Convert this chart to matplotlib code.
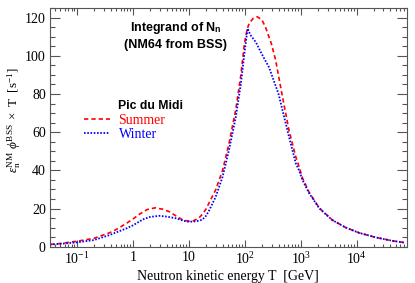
import matplotlib
matplotlib.use("Agg")
import matplotlib.pyplot as plt
from matplotlib.ticker import FixedLocator, FixedFormatter, LogLocator, NullFormatter, MultipleLocator

# ---- data ----
energy_summer = [0.033, 0.05, 0.075, 0.1, 0.2, 0.38, 0.5, 0.76, 1.0, 1.3, 1.8, 2.5, 3.5, 4.5, 6.0, 7.8,
                 10, 12, 15, 17.4, 20, 23, 30, 40, 52, 69, 85, 98, 110, 120, 140, 166, 200, 234, 300,
                 355, 470, 615, 815, 930, 1070, 1410, 2140, 3630, 6310, 11000, 21900, 43600, 74000]
summer = [1.2, 1.7, 2.4, 2.9, 4.4, 7.3, 9.0, 12.2, 14.5, 17.0, 19.5, 20.4, 19.6, 18.3, 16.0, 14.0,
          13.4, 13.6, 15.0, 17.0, 19.5, 23.0, 29.7, 40.0, 54.0, 72.0, 90.0, 106.0, 114.0, 117.0, 119.5,
          120.4, 119.0, 115.0, 106.0, 97.7, 78.5, 61.0, 47.0, 42.0, 36.0, 28.5, 20.3, 14.1, 10.1, 7.3,
          4.9, 3.1, 2.1]

energy_winter = [0.033, 0.05, 0.075, 0.1, 0.2, 0.38, 0.5, 0.76, 1.0, 1.5, 2.0, 2.95, 4.0, 5.9, 8.0,
                 10, 12, 15, 17.4, 20, 23, 30, 40, 52, 69, 85, 98, 105, 112, 125, 158, 200, 270, 400,
                 615, 815, 930, 1070, 1410, 2140, 3630, 6310, 11000, 21900, 43600, 74000]
winter = [1.2, 1.5, 2.0, 2.3, 3.5, 6.1, 7.5, 9.6, 11.2, 14.3, 15.6, 16.2, 15.8, 14.9, 13.6,
          13.1, 13.2, 13.6, 14.2, 16.0, 19.0, 26.0, 36.6, 50.6, 68.0, 85.5, 101.0, 108.0, 114.3, 111.0,
          107.0, 101.0, 94.0, 80.0, 57.6, 43.6, 40.0, 35.0, 28.0, 20.1, 14.0, 10.1, 7.3, 4.9, 3.1, 2.1]

series_labels = ["Summer", "Winter"]
xtick_values = [0.1, 1, 10, 100, 1000, 10000]
xtick_labels = [r"$10^{-1}$", "1", "10", r"$10^{2}$", r"$10^{3}$", r"$10^{4}$"]
ytick_values = [0, 20, 40, 60, 80, 100, 120]

# ---- style ----
plt.rcParams["mathtext.fontset"] = "custom"
plt.rcParams["mathtext.rm"] = "Liberation Serif"
plt.rcParams["mathtext.it"] = "Liberation Serif:italic"
plt.rcParams["mathtext.bf"] = "Liberation Serif:bold"
plt.rcParams["mathtext.sf"] = "Liberation Sans:bold"
plt.rcParams["mathtext.fallback"] = "stix"
serif = "Liberation Serif"
sans = "Liberation Sans"
axcol = "#555555"

fig = plt.figure(figsize=(4.15, 2.83), dpi=100)
ax = fig.add_axes([0.1205, 0.128, 0.8595, 0.8437])

l1, = ax.plot(energy_summer, summer, color="#ff0000", lw=1.2, linestyle=(0, (2.6, 1.8)),
              label=series_labels[0])
l2, = ax.plot(energy_winter, winter, color="#0000ff", lw=1.3, linestyle=(0, (0.9, 0.9)),
              label=series_labels[1])

ax.set_xscale("log")
ax.set_xlim(0.033, 78000)
ax.set_ylim(0, 125)

ax.xaxis.set_major_locator(FixedLocator(xtick_values))
ax.xaxis.set_major_formatter(FixedFormatter(xtick_labels))
ax.xaxis.set_minor_locator(LogLocator(base=10, subs=range(2, 10), numticks=20))
ax.xaxis.set_minor_formatter(NullFormatter())
ax.yaxis.set_major_locator(FixedLocator(ytick_values))
ax.yaxis.set_minor_locator(MultipleLocator(5))

for s in ax.spines.values():
    s.set_color(axcol)
    s.set_linewidth(0.8)

ax.tick_params(which="both", direction="in", top=True, right=True, color=axcol, width=0.8,
               labelsize=10, labelcolor="black")
ax.tick_params(axis="y", which="major", length=7.0, pad=3)
ax.tick_params(axis="y", which="minor", length=3.6)
ax.tick_params(axis="x", which="major", length=5.0, pad=3)
ax.tick_params(axis="x", which="minor", length=2.5)
for lab in ax.get_xticklabels() + ax.get_yticklabels():
    lab.set_fontfamily(serif)

ax.set_xlabel("Neutron kinetic energy T  [GeV]", fontfamily=serif, fontsize=10, labelpad=2)
ax.set_ylabel(r"$\epsilon_{\rm n}^{\rm NM}\ \phi^{\rm BSS}\ \times\ {\rm T}\ \ [{\rm s}^{-1}]$",
              fontsize=9.5)
ax.yaxis.set_label_coords(-0.076, 0.53)

ax.text(0.353, 0.915, r"Integrand of N$_\mathsf{n}$", transform=ax.transAxes, ha="center",
        va="center", fontfamily=sans, fontweight="bold", fontsize=9)
ax.text(0.353, 0.843, "(NM64 from BSS)", transform=ax.transAxes, ha="center", va="center",
        fontfamily=sans, fontweight="bold", fontsize=9)
ax.text(0.19, 0.589, "Pic du Midi", transform=ax.transAxes, ha="left", va="center",
        fontfamily=sans, fontweight="bold", fontsize=8.8)

ax.legend(handles=[l1, l2], loc="upper left", bbox_to_anchor=(0.095, 0.558), frameon=False,
          prop={"family": serif, "size": 10}, labelcolor="linecolor", handlelength=1.9,
          handletextpad=0.6, labelspacing=0.1, borderpad=0, borderaxespad=0)

fig.savefig("out.png", dpi=100)
